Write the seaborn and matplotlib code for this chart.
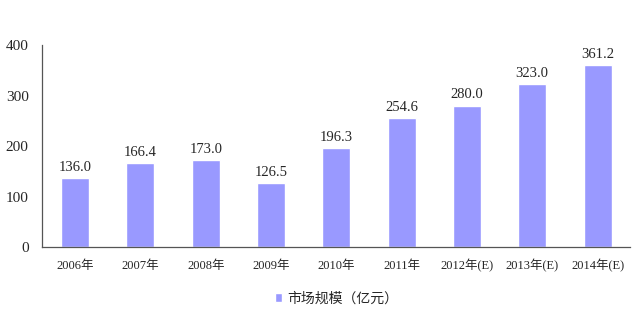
import matplotlib
matplotlib.use("Agg")
import matplotlib.pyplot as plt
import seaborn as sns
import pandas as pd
import numpy as np
from matplotlib.ticker import FixedLocator

categories = ["2006年", "2007年", "2008年", "2009年", "2010年", "2011年", "2012年(E)", "2013年(E)", "2014年(E)"]
values = [136.0, 166.4, 173.0, 126.5, 196.3, 254.6, 280.0, 323.0, 361.2]
series_name = "市场规模（亿元）"
yticks = [0, 100, 200, 300, 400]

sns.set_style("white")
plt.rcParams['font.family'] = ['Liberation Serif', 'Noto Sans CJK SC', 'DejaVu Sans']

df = pd.DataFrame({"year": categories, "value": values, "series": series_name})

fig = plt.figure(figsize=(6.34, 3.09), dpi=100)
ax = fig.add_axes([0.067, 0.2006, 0.927, 0.6535])
sns.barplot(data=df, x="year", y="value", hue="series", palette=["#9999FF"],
            width=0.43, ax=ax, saturation=1)

ax.set_ylim(0, 400)
ax.set_xlim(-0.5, len(categories) - 0.5)
ax.set_yticks(yticks)
ax.set_xlabel("")
ax.set_ylabel("")
for s in ["top", "right"]:
    ax.spines[s].set_visible(False)
for s in ["left", "bottom"]:
    ax.spines[s].set_color("#555555")
    ax.spines[s].set_linewidth(0.9)

ax.tick_params(axis="y", direction="out", length=4, width=0.8, color="#555555", labelsize=11, pad=6)
ax.tick_params(axis="x", which="major", length=0, labelsize=9, pad=9)
ax.xaxis.set_minor_locator(FixedLocator(np.arange(0.5, len(categories) - 0.5, 1)))
ax.tick_params(axis="x", which="minor", direction="out", length=4, width=0.8, color="#555555")

for c in ax.containers:
    ax.bar_label(c, labels=[f"{v:.1f}" for v in values], padding=3, fontsize=10.5)

leg = ax.legend(loc="center", bbox_to_anchor=(0.5, -0.255), frameon=False,
                handlelength=0.55, handleheight=0.55, handletextpad=0.35,
                prop={"family": ["Noto Sans CJK SC"], "size": 10})

fig.savefig("out.png", dpi=100)
